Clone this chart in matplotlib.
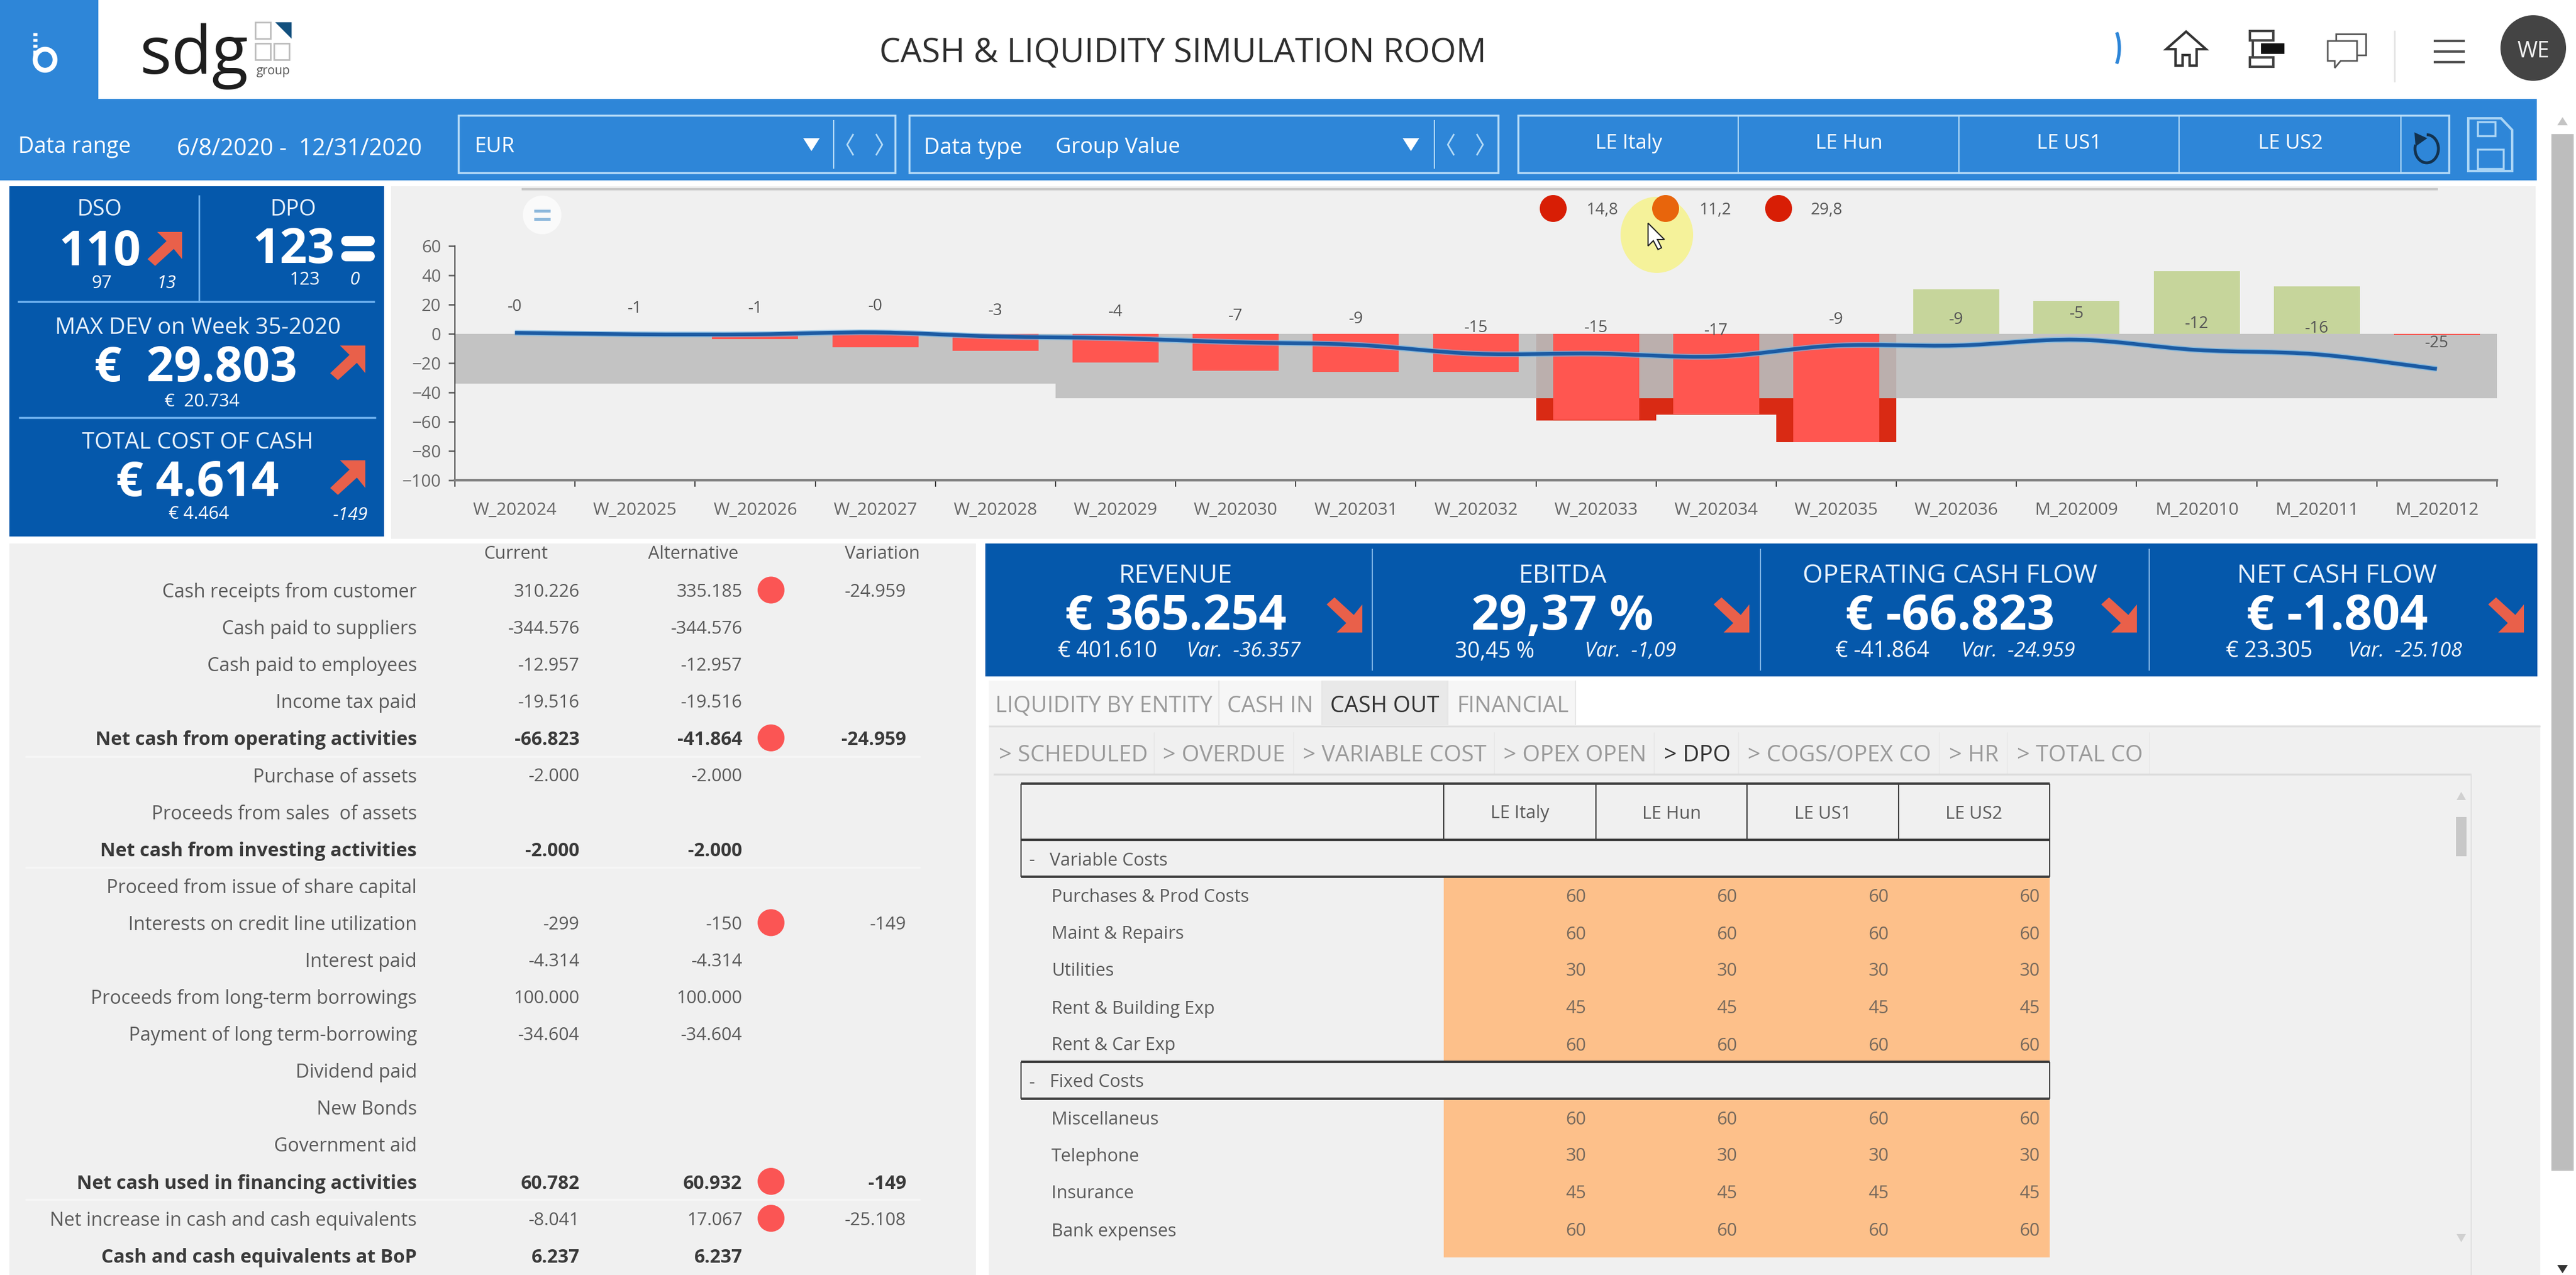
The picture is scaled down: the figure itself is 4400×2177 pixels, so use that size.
import matplotlib
matplotlib.use("Agg")
import matplotlib.pyplot as plt
from matplotlib.patches import Rectangle, Ellipse, Polygon, FancyBboxPatch, PathPatch, Arc
from matplotlib.path import Path

plt.rcParams['font.family'] = ['Open Sans', 'DejaVu Sans']

# --- chart data ---
periods = ['W_202024', 'W_202025', 'W_202026', 'W_202027', 'W_202028', 'W_202029', 'W_202030', 'W_202031', 'W_202032',
           'W_202033', 'W_202034', 'W_202035', 'W_202036', 'M_202009', 'M_202010', 'M_202011', 'M_202012']
bar_values = [0, 0, -3.6, -9, -11.5, -19.5, -25, -26, -26, -59, -55, -74, 30.4, 22.5, 43, 32.5, -0.7]
band_limit = [-34, -34, -34, -34, -34, -44, -44, -44, -44, -44, -44, -44, -44, -44, -44, -44, -44]
line_values = [0.7, -0.3, -0.3, 1.0, -1.8, -3, -5.7, -7.5, -13.6, -13.5, -15.5, -8, -8, -4, -11, -14, -24]
point_labels = ['-0', '-1', '-1', '-0', '-3', '-4', '-7', '-9', '-15', '-15', '-17', '-9', '-9', '-5', '-12', '-16', '-25']
alarm_values = ['14,8', '11,2', '29,8']
alarm_colors = ['#D81E05', '#E8650C', '#D81E05']

# --- cash flow table ---
flow_rows = ['Cash receipts from customer', 'Cash paid to suppliers', 'Cash paid to employees', 'Income tax paid',
             'Net cash from operating activities', 'Purchase of assets', 'Proceeds from sales  of assets',
             'Net cash from investing activities', 'Proceed from issue of share capital',
             'Interests on credit line utilization', 'Interest paid', 'Proceeds from long-term borrowings',
             'Payment of long term-borrowing', 'Dividend paid', 'New Bonds', 'Government aid',
             'Net cash used in financing activities', 'Net increase in cash and cash equivalents',
             'Cash and cash equivalents at BoP']
flow_current = ['310.226', '-344.576', '-12.957', '-19.516', '-66.823', '-2.000', '', '-2.000', '', '-299', '-4.314',
                '100.000', '-34.604', '', '', '', '60.782', '-8.041', '6.237']
flow_alternative = ['335.185', '-344.576', '-12.957', '-19.516', '-41.864', '-2.000', '', '-2.000', '', '-150', '-4.314',
                    '100.000', '-34.604', '', '', '', '60.932', '17.067', '6.237']
flow_variation = ['-24.959', '', '', '', '-24.959', '', '', '', '', '-149', '', '', '', '', '', '', '-149', '-25.108', '']
flow_bold = [4, 7, 16, 18]
flow_dots = [0, 4, 9, 16, 17]

# --- DPO table ---
entities = ['LE Italy', 'LE Hun', 'LE US1', 'LE US2']
variable_costs = ['Purchases & Prod Costs', 'Maint & Repairs', 'Utilities', 'Rent & Building Exp', 'Rent & Car Exp']
variable_dpo = [60, 60, 30, 45, 60]
fixed_costs = ['Miscellaneus', 'Telephone', 'Insurance', 'Bank expenses']
fixed_dpo = [60, 30, 45, 60]

# --- KPI strip ---
kpi_titles = ['REVENUE', 'EBITDA', 'OPERATING CASH FLOW', 'NET CASH FLOW']
kpi_values = ['€ 365.254', '29,37 %', '€ -66.823', '€ -1.804']
kpi_previous = ['€ 401.610', '30,45 %', '€ -41.864', '€ 23.305']
kpi_variation = ['Var.  -36.357', 'Var.  -1,09', 'Var.  -24.959', 'Var.  -25.108']

BLUE = '#0558AB'
BAR = '#2E86D8'
PANEL = '#F0F0F0'
ARROW = '#E9604A'
GREY_TEXT = '#5A5A5A'
W, H = 4400, 2177

fig = plt.figure(figsize=(44, 21.77), dpi=100, facecolor='white')
bg = fig.add_axes([0, 0, 1, 1])
bg.set_xlim(0, W)
bg.set_ylim(H, 0)
bg.axis('off')


def box(x0, y0, x1, y1, color, **kw):
    bg.add_patch(Rectangle((x0, y0), x1 - x0, y1 - y0, facecolor=color, edgecolor=kw.pop('edge', 'none'),
                           linewidth=kw.pop('lw', 0), **kw))


def hline(x0, x1, y, color, lw=2.0):
    bg.plot([x0, x1], [y, y], color=color, lw=lw, solid_capstyle='butt')


def vline(x, y0, y1, color, lw=2.0):
    bg.plot([x, x], [y0, y1], color=color, lw=lw, solid_capstyle='butt')


def label(x, y, s, size=22, color=GREY_TEXT, ha='center', **kw):
    bg.text(x, y, s, fontsize=size, color=color, ha=ha, va='center_baseline', **kw)


def arrow(x0, y0, x1, y1, down=False):
    # corner arrow, pointing up-right or down-right
    shape = [(0.28, 0), (1, 0), (1, 0.8), (0.76, 0.5), (0.22, 1), (0, 0.8), (0.55, 0.27)]
    pts = [(x0 + u * (x1 - x0), (y1 - v * (y1 - y0)) if down else (y0 + v * (y1 - y0))) for u, v in shape]
    bg.add_patch(Polygon(pts, closed=True, facecolor=ARROW, edgecolor='none'))


def dot(x, y, color, d=46):
    bg.add_patch(Ellipse((x, y), d, d, facecolor=color, edgecolor='none'))


# --- header ---
box(0, 0, 168, 169, BAR)
for sy in [56, 66, 76]:
    bg.plot([60, 60], [sy, sy + 5], color='white', lw=5, solid_capstyle='butt')
bg.plot([60, 60], [86, 104], color='white', lw=5, solid_capstyle='butt')
bg.add_patch(Ellipse((77, 102), 34, 36, facecolor='none', edgecolor='white', linewidth=6))
bg.text(238, 126, 'sdg', fontsize=82, color='#1E1E1E', ha='left', va='baseline')
for sx, sy in [(436, 38), (436, 74), (468, 74)]:
    box(sx, sy, sx + 26, sy + 28, 'none', edge='#BDBDBD', lw=2)
bg.add_patch(Polygon([(470, 38), (498, 38), (498, 66)], closed=True, facecolor='#12507E', edgecolor='none'))
label(467, 119, 'group', size=15, color='#555555')
label(2020, 85, 'CASH & LIQUIDITY SIMULATION ROOM', size=41.3, color='#2E2E2E')

# header icons
bg.add_patch(Arc((3600, 82), 40, 84, theta1=-60, theta2=60, edgecolor='#2E86D8', linewidth=4))
bg.add_patch(Polygon([(3700, 84), (3734, 54), (3768, 84), (3752, 84), (3752, 112), (3740, 112), (3740, 94), (3728, 94),
                      (3728, 112), (3716, 112), (3716, 84)], closed=True, facecolor='white', edgecolor='#333333', linewidth=3))
box(3843, 53, 3883, 69, 'white', edge='#444444', lw=3)
box(3843, 98, 3883, 114, 'white', edge='#444444', lw=3)
box(3862, 74, 3902, 92, '#111111')
vline(3848, 69, 98, '#444444', lw=3)
box(3990, 58, 4041, 94, 'white', edge='#555555', lw=2)
bg.add_patch(Polygon([(3976, 70), (4026, 70), (4026, 104), (3998, 104), (3988, 116), (3988, 104), (3976, 104)],
                     closed=True, facecolor='white', edgecolor='#555555', linewidth=2))
vline(4090, 52, 140, '#E4E4E4', lw=2)
for hy in [70, 88, 106]:
    hline(4157, 4210, hy, '#555555', lw=3)
bg.add_patch(Ellipse((4327, 82), 112, 112, facecolor='#444444', edgecolor='none'))
label(4327, 84, 'WE', size=27, color='#F2F2F2')

# --- toolbar ---
box(0, 169, 4333, 308, BAR)
LINE = '#B5DBF7'
label(31, 247, 'Data range', size=27, color='white', ha='left')
label(302, 250, '6/8/2020 -  12/31/2020', size=28.5, color='white', ha='left')
box(783, 197, 1529, 295, 'none', edge=LINE, lw=2.5)
label(811, 247, 'EUR', size=26, color='white', ha='left')
box(1553, 197, 2559, 295, 'none', edge=LINE, lw=2.5)
label(1578, 249, 'Data type', size=27, color='white', ha='left')
label(1803, 248, 'Group Value', size=26.5, color='white', ha='left')
for tri, div in [(1386, 1424), (2410, 2450)]:
    bg.add_patch(Polygon([(tri - 14, 236), (tri + 14, 236), (tri, 258)], closed=True, facecolor='white'))
    vline(div, 205, 288, LINE, lw=1.5)
    bg.plot([div + 33, div + 23, div + 33], [230, 247, 264], color=LINE, lw=2)
    bg.plot([div + 73, div + 83, div + 73], [230, 247, 264], color=LINE, lw=2)
box(2593, 197, 4183, 295, 'none', edge=LINE, lw=2.5)
for dx in [2969, 3346, 3722, 4101]:
    vline(dx, 197, 295, LINE, lw=1.5)
for cx, ent in zip([2782, 3158, 3534, 3912], entities):
    label(cx, 241, ent, size=25, color='white')
# undo icon
bg.add_patch(Arc((4145, 254), 40, 48, theta1=270, theta2=560, edgecolor='#12324F', linewidth=3.5))
bg.add_patch(Polygon([(4124, 226), (4126, 250), (4146, 236)], closed=True, facecolor='#12324F', edgecolor='none'))
# save icon
bg.add_patch(Polygon([(4216, 202), (4272, 202), (4291, 222), (4291, 292), (4216, 292)], closed=True, facecolor='none',
                     edgecolor='#A9D4F5', linewidth=3))
box(4232, 208, 4262, 232, 'none', edge='#A9D4F5', lw=2.5)
box(4232, 255, 4276, 288, 'none', edge='#A9D4F5', lw=2.5)

# page scrollbar
box(4358, 229, 4396, 1999, '#BDBDBD')
bg.add_patch(Polygon([(4368, 214), (4386, 214), (4377, 200)], closed=True, facecolor='#C4C4C4'))
bg.add_patch(Polygon([(4368, 2160), (4386, 2160), (4377, 2174)], closed=True, facecolor='#333333'))

# --- left KPI panel ---
box(16, 318, 656, 916, BLUE)
vline(340, 333, 515, '#6FB2F0', lw=2)
hline(30, 640, 515, '#6FB2F0', lw=2.5)
hline(32, 642, 713, '#6FB2F0', lw=2.5)
label(170, 354, 'DSO', size=27, color='#E8F2FB')
label(170, 422, '110', size=59, color='white', weight='bold')
arrow(252, 396, 311, 454)
label(174, 480, '97', size=22, color='white')
label(284, 480, '13', size=22, color='white', style='italic')
label(501, 354, 'DPO', size=27, color='#E8F2FB')
label(501, 418, '123', size=59, color='white', weight='bold')
for by in [404, 430]:
    bg.add_patch(FancyBboxPatch((587, by + 3), 49, 9, boxstyle='round,pad=0,rounding_size=5', facecolor='white',
                                edgecolor='white', linewidth=6))
label(520, 475, '123', size=22, color='white')
label(606, 475, '0', size=22, color='white', style='italic')
label(338, 556, 'MAX DEV on Week 35-2020', size=28, color='#E8F2FB')
label(334, 620, '€  29.803', size=59, color='white', weight='bold')
arrow(564, 590, 624, 649)
label(345, 682, '€  20.734', size=22, color='white')
label(338, 751, 'TOTAL COST OF CASH', size=28, color='#E8F2FB')
label(337, 816, '€ 4.614', size=59, color='white', weight='bold')
arrow(564, 786, 624, 845)
label(340, 875, '€ 4.464', size=22, color='white')
label(598, 877, '-149', size=22, color='white', style='italic')

# --- chart panel ---
box(668, 318, 4331, 920, PANEL)
hline(891, 4164, 323, '#C8C8C8', lw=3)
dot(926, 367, '#FAFAFA', d=66)
hline(912, 940, 360, '#8DB8DC', lw=3.5)
hline(912, 940, 374, '#8DB8DC', lw=3.5)

bg.add_patch(Ellipse((2830, 401), 124, 130, facecolor='#F5F29A', edgecolor='none'))
for cx, tx, val, col in zip([2653, 2845, 3038], [2737, 2930, 3120], alarm_values, alarm_colors):
    dot(cx, 356, col)
    label(tx, 356, val, size=20)
bg.add_patch(Polygon([(2815, 381), (2815, 420), (2824, 411), (2832, 426), (2838, 423), (2831, 409), (2843, 409)],
                     closed=True, facecolor='white', edgecolor='#222222', linewidth=1.5))

ax = fig.add_axes([777 / W, 1 - 820 / H, (4265 - 777) / W, 400 / H])
ax.patch.set_alpha(0)
xs = list(range(len(periods)))
ax.set_xlim(-0.5, len(periods) - 0.5)
ax.set_ylim(-100, 60)

over = [v < b for v, b in zip(bar_values, band_limit)]
band_colors = ['#BBAFAD' if o else '#C3C3C3' for o in over]
ax.bar(xs, band_limit, width=1.0, color=band_colors, linewidth=0, zorder=1)
for x, v, b, o in zip(xs, bar_values, band_limit, over):
    if o:
        ax.bar(x, v - b, bottom=b, width=1.0, color='#D92A14', linewidth=0, zorder=2)
bar_colors = ['#C6D59B' if v > 0 else '#FF5650' for v in bar_values]
ax.bar(xs, bar_values, width=0.716, color=bar_colors, linewidth=0, zorder=3)


def smooth_path(px, py):
    # Catmull-Rom drawn as bezier segments, through the read values only
    verts = [(px[0], py[0])]
    codes = [Path.MOVETO]
    n = len(px)
    for i in range(n - 1):
        p0 = max(i - 1, 0)
        p3 = min(i + 2, n - 1)
        verts.append((px[i] + (px[i + 1] - px[p0]) / 6, py[i] + (py[i + 1] - py[p0]) / 6))
        verts.append((px[i + 1] - (px[p3] - px[i]) / 6, py[i + 1] - (py[p3] - py[i]) / 6))
        verts.append((px[i + 1], py[i + 1]))
        codes += [Path.CURVE4] * 3
    return Path(verts, codes)


curve = smooth_path(xs, line_values)
ax.add_patch(PathPatch(curve, facecolor='none', edgecolor='#6FB4E6', linewidth=7, alpha=0.7, capstyle='butt', zorder=4))
ax.add_patch(PathPatch(curve, facecolor='none', edgecolor='#1C5BA3', linewidth=4.5, capstyle='butt', zorder=5))

for x, v, txt in zip(xs, line_values, point_labels):
    ax.text(x, v + 19, txt, fontsize=20, color='#555555', ha='center', va='center_baseline', zorder=6)

ax.set_xticks(xs)
ax.set_xticklabels(periods, fontsize=21.5, color='#666666')
ax.set_xticks([x - 0.5 for x in xs] + [len(xs) - 0.5], minor=True)
ax.tick_params(axis='x', which='major', length=0, pad=27)
ax.tick_params(axis='x', which='minor', length=8, width=1.5, color='#444444')
ax.set_yticks(range(-100, 61, 20))
ax.tick_params(axis='y', length=8, width=2, color='#666666', labelsize=21, labelcolor='#666666', pad=9)
for side in ['top', 'right']:
    ax.spines[side].set_visible(False)
ax.spines['left'].set_color('#444444')
ax.spines['left'].set_linewidth(1.5)
ax.spines['left'].set_bounds(-104, 60)
ax.spines['bottom'].set_color('#808080')
ax.spines['bottom'].set_linewidth(3)

# --- cash flow table ---
box(16, 928, 1667, 2177, PANEL)
for cx, head in zip([881, 1184, 1507], ['Current', 'Alternative', 'Variation']):
    label(cx, 942, head, size=22)
for sep in [1292, 1481, 2048]:
    hline(43, 1572, sep, '#F6F6F6', lw=2.5)
for i, name in enumerate(flow_rows):
    y = 1007.5 + i * 63.1
    bold = i in flow_bold
    weight = 'bold' if bold else 'normal'
    col = '#3A3A3A' if bold else GREY_TEXT
    num_size = 23 if bold else 22
    label(712, y, name, size=23.3, color=col, ha='right', weight=weight)
    label(990, y, flow_current[i], size=num_size, color=col, ha='right', weight=weight)
    label(1268, y, flow_alternative[i], size=num_size, color=col, ha='right', weight=weight)
    label(1548, y, flow_variation[i], size=num_size, color=col, ha='right', weight=weight)
    if i in flow_dots:
        dot(1317, y, '#FB5554')

# --- KPI strip ---
box(1683, 928, 4334, 1155, BLUE)
for dx in [2344, 3007, 3671]:
    vline(dx, 937, 1145, '#7FB4E6', lw=1.5)
for i, cx in enumerate([2008, 2669, 3331, 3992]):
    label(cx, 978, kpi_titles[i], size=32, color='#E8F2FB')
    label(cx, 1043, kpi_values[i], size=60, color='white', weight='bold')
    label(cx - 116, 1108, kpi_previous[i], size=27, color='#F4F8FC')
    label(cx + 116, 1108, kpi_variation[i], size=25, color='#F4F8FC', style='italic')
    arrow(cx + 258, 1020, cx + 319, 1080, down=True)

# --- tabs ---
box(1689, 1162, 2691, 1238, '#F6F6F6')
box(2258, 1162, 2473, 1238, '#E9E9E9')
for dx in [2082, 2258, 2473, 2691]:
    vline(dx, 1162, 1238, '#E6E6E6', lw=1.5)
for cx, tab, col in zip([1885, 2169, 2365, 2584], ['LIQUIDITY BY ENTITY', 'CASH IN', 'CASH OUT', 'FINANCIAL'],
                        ['#9A9A9A', '#9A9A9A', '#333333', '#9A9A9A']):
    label(cx, 1202, tab, size=27.5, color=col)

box(1689, 1238, 4339, H, PANEL)
hline(1689, 4339, 1240, '#DEDEDE', lw=2)
for dx in [1971, 2209, 2552, 2825, 2969, 3312, 3428, 3671]:
    vline(dx, 1250, 1321, '#E6E6E6', lw=1)
sub_tabs = ['> SCHEDULED', '> OVERDUE', '> VARIABLE COST', '> OPEX OPEN', '> DPO', '> COGS/OPEX CO', '> HR', '> TOTAL CO']
for cx, tab in zip([1833, 2091, 2382, 2690, 2899, 3142, 3371, 3553], sub_tabs):
    label(cx, 1285, tab, size=28, color='#333333' if tab == '> DPO' else '#9A9A9A')
hline(1697, 4221, 1322, '#DCDCDC', lw=2.5)
vline(4221, 1322, H, '#E2E2E2', lw=1.5)
box(4195, 1395, 4213, 1462, '#C8C8C8')
bg.add_patch(Polygon([(4196, 1366), (4212, 1366), (4204, 1352)], closed=True, facecolor='#D0D0D0'))
bg.add_patch(Polygon([(4196, 2107), (4212, 2107), (4204, 2121)], closed=True, facecolor='#D0D0D0'))

# --- DPO table ---
col_edges = [2466, 2726, 2984, 3243, 3501]
LEFT = 1744
ROW = '#3C3C3C'


def cost_rows(names, values, top, bottom, centres):
    box(col_edges[0], top, col_edges[-1], bottom, '#FDC08A')
    for name, val, y in zip(names, values, centres):
        label(1796, y, name, size=22, ha='left')
        for c in range(len(entities)):
            label(col_edges[c + 1] - 17, y, str(val), size=22, color='#77695C', ha='right')


cost_rows(variable_costs, variable_dpo, 1497, 1812, [1528, 1592, 1655, 1719, 1782])
cost_rows(fixed_costs, fixed_dpo, 1876, 2147, [1908, 1971, 2035, 2099])
hline(LEFT, col_edges[-1], 1338, ROW, lw=3)
hline(LEFT, col_edges[-1], 1434, ROW, lw=3)
hline(LEFT, col_edges[-1], 1497, ROW, lw=3)
hline(LEFT, col_edges[-1], 1813, ROW, lw=3)
hline(LEFT, col_edges[-1], 1876, ROW, lw=3)
vline(LEFT, 1338, 1497, ROW, lw=1.5)
vline(LEFT, 1813, 1876, ROW, lw=1.5)
vline(col_edges[-1], 1338, 1497, ROW, lw=1.5)
vline(col_edges[-1], 1813, 1876, ROW, lw=1.5)
for ce in col_edges[:-1]:
    vline(ce, 1338, 1434, ROW, lw=1.5)
for c, ent in enumerate(entities):
    label((col_edges[c] + col_edges[c + 1]) / 2, 1386, ent, size=22)
label(1763, 1466, '-', size=22, ha='center')
label(1793, 1466, 'Variable Costs', size=22, ha='left')
label(1763, 1845, '-', size=22, ha='center')
label(1793, 1845, 'Fixed Costs', size=22, ha='left')

fig.savefig('out.png', dpi=100, facecolor='white')
